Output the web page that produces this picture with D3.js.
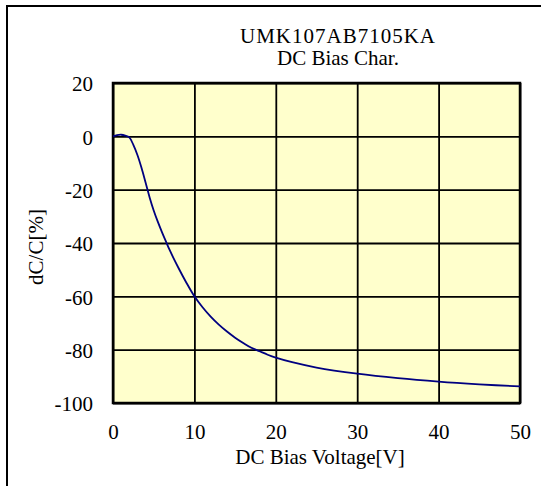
<!DOCTYPE html>
<html>
<head>
<meta charset="utf-8">
<script src="https://cdn.jsdelivr.net/npm/d3@7"></script>
<style>
  body { margin: 0; background: #fff; }
  svg text { font-family: "Liberation Serif", "Times New Roman", serif; fill: #000; }
</style>
</head>
<body>
<div id="chart"></div>
<script>
var width = 541, height = 486;

// values
var voltage = [0, 0.5, 1, 1.5, 2, 2.5, 3, 3.5, 4, 4.5, 5, 5.5, 6, 6.5, 7, 8, 9, 10, 11, 12, 13, 14, 15, 16, 17, 18, 19, 20, 22, 25, 30, 35, 40, 45, 50];
var dcdc = [0, 0.45, 0.6, 0.3, -0.4, -3.2, -7.0, -11.8, -17.3, -22.9, -27.8, -32.0, -35.8, -39.4, -42.9, -49.1, -54.8, -60, -64.1, -67.6, -70.6, -73.2, -75.5, -77.5, -79.3, -80.6, -81.9, -83.0, -84.7, -86.7, -89.0, -90.7, -92.0, -93.0, -93.8];
var xTicks = [0, 10, 20, 30, 40, 50];
var yTicks = [20, 0, -20, -40, -60, -80, -100];
var titleLines = ["UMK107AB7105KA", "DC Bias Char."];

var plotLeft = 113, plotRight = 520, plotTop = 83, plotBottom = 403;

var x = d3.scaleLinear().domain([0, 50]).range([plotLeft, plotRight]);
var y = d3.scaleLinear().domain([-100, 20]).range([plotBottom, plotTop]);

var svg = d3.select("#chart").append("svg")
  .attr("width", width).attr("height", height);

// outer frame, only left and top edges fall inside the picture
svg.append("path")
  .attr("d", "M7," + (height + 5) + "V6H" + (width + 5))
  .attr("fill", "none").attr("stroke", "#000").attr("stroke-width", 2);

svg.append("rect")
  .attr("x", plotLeft).attr("y", plotTop)
  .attr("width", plotRight - plotLeft).attr("height", plotBottom - plotTop)
  .attr("fill", "#ffffcc");

// grid lines via axes with full length ticks
svg.append("g")
  .attr("transform", "translate(0," + plotBottom + ")")
  .call(d3.axisBottom(x).tickValues(xTicks).tickSize(-(plotBottom - plotTop)).tickFormat(""))
  .call(function(g) { g.select(".domain").remove(); })
  .selectAll("line").attr("stroke", "#000").attr("stroke-width", 1.8);

svg.append("g")
  .attr("transform", "translate(" + plotLeft + ",0)")
  .call(d3.axisLeft(y).tickValues(yTicks).tickSize(-(plotRight - plotLeft)).tickFormat(""))
  .call(function(g) { g.select(".domain").remove(); })
  .selectAll("line").attr("stroke", "#000").attr("stroke-width", 1.8);

// tick labels (plain hyphen for negatives, like the original)
var plain = function(d) { return String(d); };

svg.append("g")
  .attr("transform", "translate(0," + plotBottom + ")")
  .call(d3.axisBottom(x).tickValues(xTicks).tickSize(0).tickPadding(0).tickFormat(plain))
  .call(function(g) { g.select(".domain").remove(); })
  .selectAll("text")
  .attr("y", 36).attr("dy", null)
  .style("font-size", "21px").style("font-family", "Liberation Serif");

svg.append("g")
  .attr("transform", "translate(" + plotLeft + ",0)")
  .call(d3.axisLeft(y).tickValues(yTicks).tickSize(0).tickPadding(0).tickFormat(plain))
  .call(function(g) { g.select(".domain").remove(); })
  .selectAll("text")
  .attr("x", -20).attr("dy", "0.38em")
  .style("font-size", "21px").style("font-family", "Liberation Serif");

svg.append("rect")
  .attr("x", plotLeft).attr("y", plotTop)
  .attr("width", plotRight - plotLeft).attr("height", plotBottom - plotTop)
  .attr("fill", "none").attr("stroke", "#000").attr("stroke-width", 2.5);

var line = d3.line()
  .x(function(d) { return x(d[0]); })
  .y(function(d) { return y(d[1]); })
  .curve(d3.curveCatmullRom.alpha(0.5));

svg.append("path")
  .datum(d3.zip(voltage, dcdc))
  .attr("d", line)
  .attr("fill", "none")
  .attr("stroke", "#000080")
  .attr("stroke-width", 1.8);

// titles
svg.selectAll(".title")
  .data(titleLines)
  .enter().append("text")
  .attr("class", "title")
  .attr("x", 338)
  .attr("y", function(d, i) { return 43 + i * 22; })
  .attr("text-anchor", "middle")
  .style("font-size", "21px")
  .style("letter-spacing", function(d, i) { return i == 0 ? "1px" : "0px"; })
  .text(function(d) { return d; });

svg.append("text")
  .attr("x", 320).attr("y", 464)
  .attr("text-anchor", "middle")
  .style("font-size", "21px")
  .text("DC Bias Voltage[V]");

svg.append("text")
  .attr("transform", "translate(43,247) rotate(-90)")
  .attr("text-anchor", "middle")
  .style("font-size", "21px")
  .text("dC/C[%]");
</script>
</body>
</html>
